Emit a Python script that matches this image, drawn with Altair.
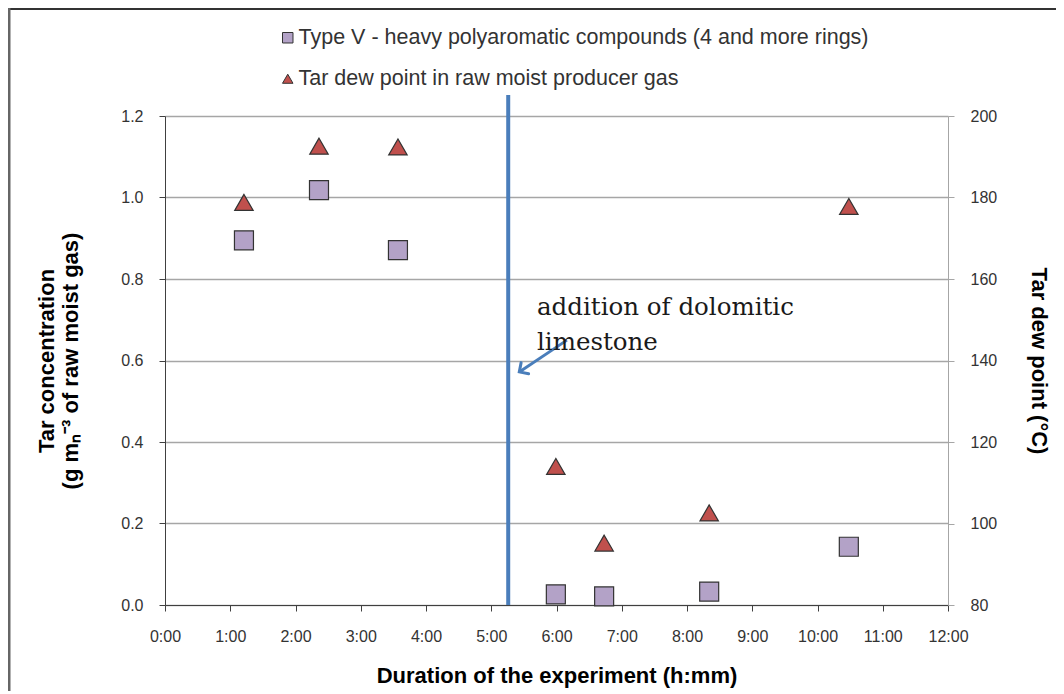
import altair as alt
import pandas as pd

# --- data ---
sq_hours = [1.21, 2.36, 3.57, 5.99, 6.73, 8.34, 10.48]
sq_conc = [0.895, 1.018, 0.871, 0.026, 0.021, 0.033, 0.143]

tri_hours = [1.21, 2.36, 3.57, 5.99, 6.73, 8.34, 10.48]
tri_dew = [178.8, 192.6, 192.4, 114.0, 95.2, 102.6, 177.8]

series_names = [
    "Type V - heavy polyaromatic compounds (4 and more rings)",
    "Tar dew point in raw moist producer gas",
]
dolomite_hour = 5.26
arrow_hours = [6.16, 5.43]
arrow_conc = [0.650, 0.572]

x_ticks = list(range(0, 13))
left_ticks = [0.0, 0.2, 0.4, 0.6, 0.8, 1.0, 1.2]
right_ticks = [80, 100, 120, 140, 160, 180, 200]

W, H = 783, 489
FONT = "Liberation Sans, Arial, sans-serif"

df_sq = pd.DataFrame({"h": sq_hours, "v": sq_conc, "s": series_names[0]})
df_tri = pd.DataFrame({"h": tri_hours, "v": tri_dew, "s": series_names[1]})
df_arrow = pd.DataFrame({"h": arrow_hours, "v": arrow_conc, "o": [0, 1]})

left_y = alt.Y(
    "v:Q",
    scale=alt.Scale(domain=[0, 1.2], nice=False),
    axis=alt.Axis(
        values=left_ticks,
        format=".1f",
        title=["Tar concentration", "(g mₙ⁻³ of raw moist gas)"],
        grid=True,
        gridColor="#a6a6a6",
        gridWidth=1.3,
        domainColor="#404040",
        tickColor="#404040",
        tickSize=6,
        labelPadding=16,
        titlePadding=38,
        titleLineHeight=24,
    ),
)

xenc = alt.X(
    "h:Q",
    scale=alt.Scale(domain=[0, 12], nice=False, zero=False),
    axis=alt.Axis(
        values=x_ticks,
        labelExpr="datum.value + ':00'",
        labelFlush=False,
        title="Duration of the experiment (h:mm)",
        grid=False,
        domainColor="#404040",
        tickColor="#404040",
        tickSize=6,
        labelPadding=17,
        titlePadding=21,
    ),
)

color = alt.Color(
    "s:N",
    scale=alt.Scale(domain=series_names, range=["#b3a2c7", "#c0504d"]),
    legend=alt.Legend(
        title=None,
        orient="none",
        legendX=112,
        legendY=-89,
        direction="vertical",
        labelFontSize=21.5,
        labelFont=FONT,
        labelColor="#333333",
        labelLimit=800,
        symbolSize=110,
        symbolStrokeColor="#333333",
        symbolStrokeWidth=1,
        rowPadding=18,
        labelOffset=0,
    ),
)
shape = alt.Shape(
    "s:N",
    scale=alt.Scale(domain=series_names, range=["square", "triangle-up"]),
    legend=None,
)

squares = alt.Chart(df_sq).mark_point(
    filled=True, size=361, stroke="#333333", strokeWidth=1.2, opacity=1
).encode(x=xenc, y=left_y, color=color, shape=shape)

triangles = alt.Chart(df_tri).mark_point(
    filled=True, size=340, stroke="#333333", strokeWidth=1.2, opacity=1
).encode(
    x=alt.X("h:Q"),
    y=alt.Y(
        "v:Q",
        scale=alt.Scale(domain=[80, 200], nice=False, zero=False),
        axis=alt.Axis(
            orient="right",
            values=right_ticks,
            title="Tar dew point (°C)",
            grid=False,
            domainColor="#a6a6a6",
            tickColor="#a6a6a6",
            tickSize=6,
            labelPadding=16,
            titlePadding=30,
        ),
    ),
    color=color,
    shape=shape,
)

vline = alt.Chart(pd.DataFrame({"h": [dolomite_hour]})).mark_rule(
    color="#4a7ebb", strokeWidth=4
).encode(x="h:Q", y=alt.value(-21), y2=alt.value(H))

note = alt.Chart(pd.DataFrame({"t": [["addition of dolomitic", "limestone"]]})).mark_text(
    align="left",
    baseline="alphabetic",
    font="DejaVu Serif, Liberation Serif, serif",
    fontSize=24.5,
    lineHeight=35,
    color="#1a1a1a",
).encode(text="t", x=alt.value(372), y=alt.value(199))

arrow_line = alt.Chart(df_arrow).mark_line(color="#4a7ebb", strokeWidth=3).encode(
    x="h:Q", y=left_y, order="o:Q"
)
arrow_head = alt.Chart(df_arrow.iloc[[1]]).mark_point(
    shape="M-1,1L0,0L1,1", filled=False, stroke="#4a7ebb", strokeWidth=3,
    size=180, angle=236, opacity=1, strokeCap="round"
).encode(x="h:Q", y=left_y)

border_top = alt.Chart(pd.DataFrame({"a": [0]})).mark_rule(color="#333333", strokeWidth=2).encode(
    x=alt.value(-157), x2=alt.value(W + 200), y=alt.value(-107)
)
border_left = alt.Chart(pd.DataFrame({"a": [0]})).mark_rule(color="#666666", strokeWidth=3).encode(
    x=alt.value(-156), y=alt.value(-108), y2=alt.value(H + 200)
)

left_group = alt.layer(squares, arrow_line, arrow_head).resolve_scale(y="shared")
chart = alt.layer(
    left_group, triangles, vline, note, border_top, border_left
).resolve_scale(y="independent").properties(
    width=W, height=H,
    autosize=alt.AutoSizeParams(type="none"),
    padding={"left": 157, "top": 108, "right": 108, "bottom": 86},
).configure_view(stroke=None).configure_axis(
    labelFont=FONT, labelFontSize=16, labelColor="#333333",
    titleFont=FONT, titleFontSize=22, titleFontWeight="bold", titleColor="#000000",
)

chart.save("out.html", embed_options={"renderer": "svg", "actions": False})
